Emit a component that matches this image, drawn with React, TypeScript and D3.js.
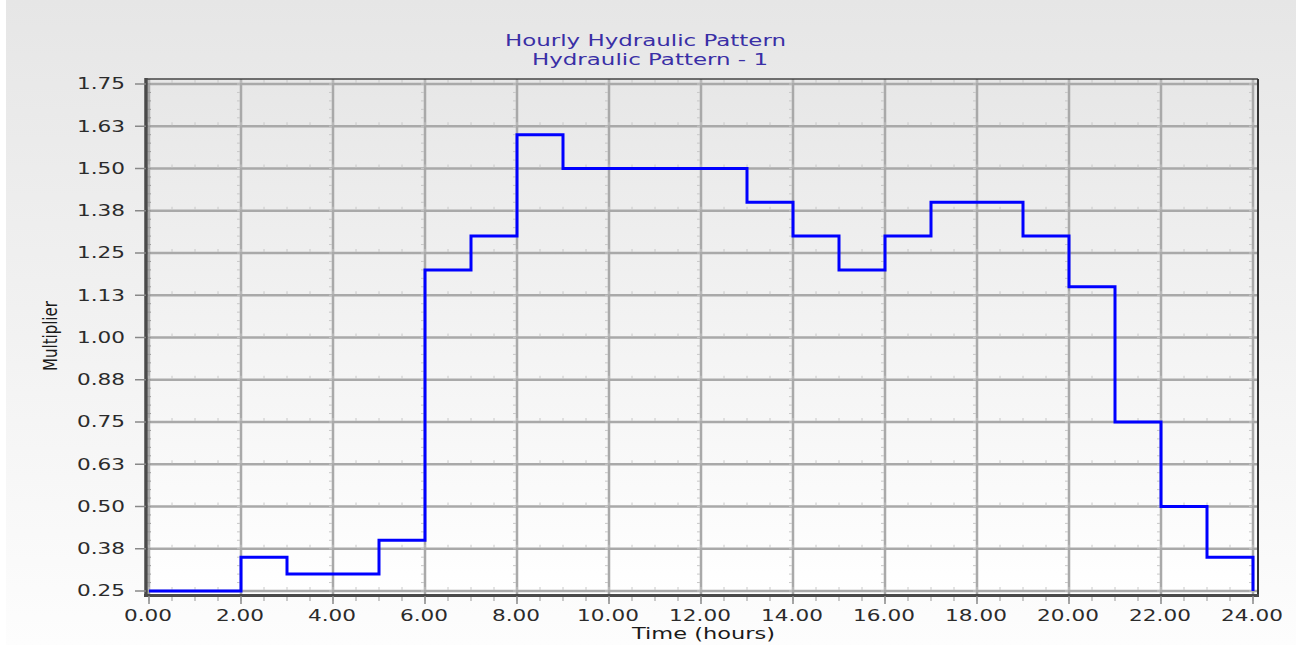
import React from "react";
import * as d3 from "d3";

const hours: number[] = [0,1,2,3,4,5,6,7,8,9,10,11,12,13,14,15,16,17,18,19,20,21,22,23,24];
const multipliers: number[] = [0.25,0.25,0.35,0.30,0.30,0.40,1.20,1.30,1.60,1.50,1.50,1.50,1.50,1.40,1.30,1.20,1.30,1.40,1.40,1.30,1.15,0.75,0.50,0.35,0.25];
const yTicks: number[] = [0.25,0.375,0.5,0.625,0.75,0.875,1.0,1.125,1.25,1.375,1.5,1.625,1.75];
const xTicks: number[] = [0,2,4,6,8,10,12,14,16,18,20,22,24];
const titleLines: string[] = ["Hourly Hydraulic Pattern", "Hydraulic Pattern - 1"];
const xLabel = "Time (hours)";
const yLabel = "Multiplier";

const W = 1303, H = 649;
const L = 149, R = 1253, T = 84, B = 591;

export default function App() {
  const x = d3.scaleLinear().domain([0, 24]).range([L, R]);
  const y = d3.scaleLinear().domain([0.25, 1.75]).range([B, T]);
  const line = d3.line<number>()
    .x((_, i) => x(hours[i]))
    .y((d) => y(d))
    .curve(d3.curveStepAfter);
  const yMinor = d3.range(0.25, 1.7501, 0.025);
  const xMinor = d3.range(0, 24.001, 0.5);
  const font = "'DejaVu Sans', Verdana, sans-serif";
  const tickFs = 15, tickSx = 1.44;
  return (
    <svg width={W} height={H} style={{ position: "absolute", left: 0, top: 0 }} fontFamily={font}>
      <defs>
        <linearGradient id="bg" x1="0" y1="0" x2="0" y2="1">
          <stop offset="0" stopColor="#e6e6e6" />
          <stop offset="1" stopColor="#fdfdfd" />
        </linearGradient>
        <linearGradient id="pbg" x1="0" y1="0" x2="0" y2="1">
          <stop offset="0" stopColor="#e7e7e7" />
          <stop offset="1" stopColor="#ffffff" />
        </linearGradient>
      </defs>
      <rect x={0} y={0} width={W} height={H} fill="#ffffff" />
      <rect x={6} y={0} width={1290} height={645} fill="url(#bg)" />
      <rect x={146} y={79} width={1112} height={516} fill="url(#pbg)" />
      {/* grid */}
      {yTicks.map((t) => (
        <line key={"gy" + t} x1={146} x2={1258} y1={y(t)} y2={y(t)} stroke="#a9a9a9" strokeWidth={2.5} />
      ))}
      {xTicks.map((t) => (
        <line key={"gx" + t} x1={x(t)} x2={x(t)} y1={79} y2={595} stroke="#a9a9a9" strokeWidth={2.5} />
      ))}
      {/* minor ticks along gridlines */}
      {yTicks.map((t) =>
        xMinor.map((m) => (
          <line key={"mx" + t + "_" + m} x1={x(m)} x2={x(m)} y1={y(t) - 4} y2={y(t) - 1} stroke="#c8c8c8" strokeWidth={1} />
        ))
      )}
      {xTicks.map((t) =>
        yMinor.map((m) => (
          <line key={"my" + t + "_" + m} x1={x(t) - 4} x2={x(t) - 1} y1={y(m)} y2={y(m)} stroke="#c8c8c8" strokeWidth={1} />
        ))
      )}
      {/* frame */}
      <line x1={146} x2={1258} y1={79} y2={79} stroke="#444" strokeWidth={1.5} />
      <line x1={1258} x2={1258} y1={79} y2={596} stroke="#333" strokeWidth={2} />
      <line x1={146} x2={146} y1={78} y2={597} stroke="#4a4a4a" strokeWidth={3.5} />
      <line x1={144} x2={1259} y1={595.5} y2={595.5} stroke="#4a4a4a" strokeWidth={3} />
      {/* left axis ticks */}
      {yTicks.map((t) => (
        <line key={"ty" + t} x1={135} x2={146} y1={y(t)} y2={y(t)} stroke="#888" strokeWidth={1.5} />
      ))}
      {yMinor.map((m) => (
        <line key={"tym" + m} x1={148} x2={151} y1={y(m)} y2={y(m)} stroke="#999" strokeWidth={1} />
      ))}
      {/* bottom axis ticks */}
      {xTicks.map((t) => (
        <line key={"tx" + t} x1={x(t)} x2={x(t)} y1={596} y2={604} stroke="#888" strokeWidth={1.5} />
      ))}
      {xMinor.map((m) => (
        <line key={"txm" + m} x1={x(m)} x2={x(m)} y1={597} y2={601} stroke="#999" strokeWidth={1} />
      ))}
      {/* data */}
      <path d={line(multipliers) || ""} fill="none" stroke="#0000ff" strokeWidth={3} />
      {/* tick labels */}
      {yTicks.map((t) => (
        <text key={"ly" + t} transform={`translate(125,${y(t)}) scale(${tickSx},1)`} dy="0.36em" textAnchor="end" fontSize={tickFs} fill="#2b2b2b">
          {d3.format(".2f")(t + 1e-9)}
        </text>
      ))}
      {xTicks.map((t) => (
        <text key={"lx" + t} transform={`translate(${x(t) - 1},621) scale(${tickSx},1)`} textAnchor="middle" fontSize={tickFs} fill="#2b2b2b">
          {d3.format(".2f")(t)}
        </text>
      ))}
      {/* titles */}
      {titleLines.map((s, i) => (
        <text key={"t" + i} transform={`translate(${i === 0 ? 645.5 : 650},${46 + i * 18.5}) scale(1.53,1)`} textAnchor="middle" fontSize={15} fill="#3a2fa6">
          {s}
        </text>
      ))}
      <text transform="translate(703.5,639) scale(1.5,1)" textAnchor="middle" fontSize={15} fill="#1a1a1a">{xLabel}</text>
      <text transform="translate(56.5,336) rotate(-90) scale(1,1.3)" textAnchor="middle" fontSize={15} fill="#1a1a1a">{yLabel}</text>
    </svg>
  );
}
